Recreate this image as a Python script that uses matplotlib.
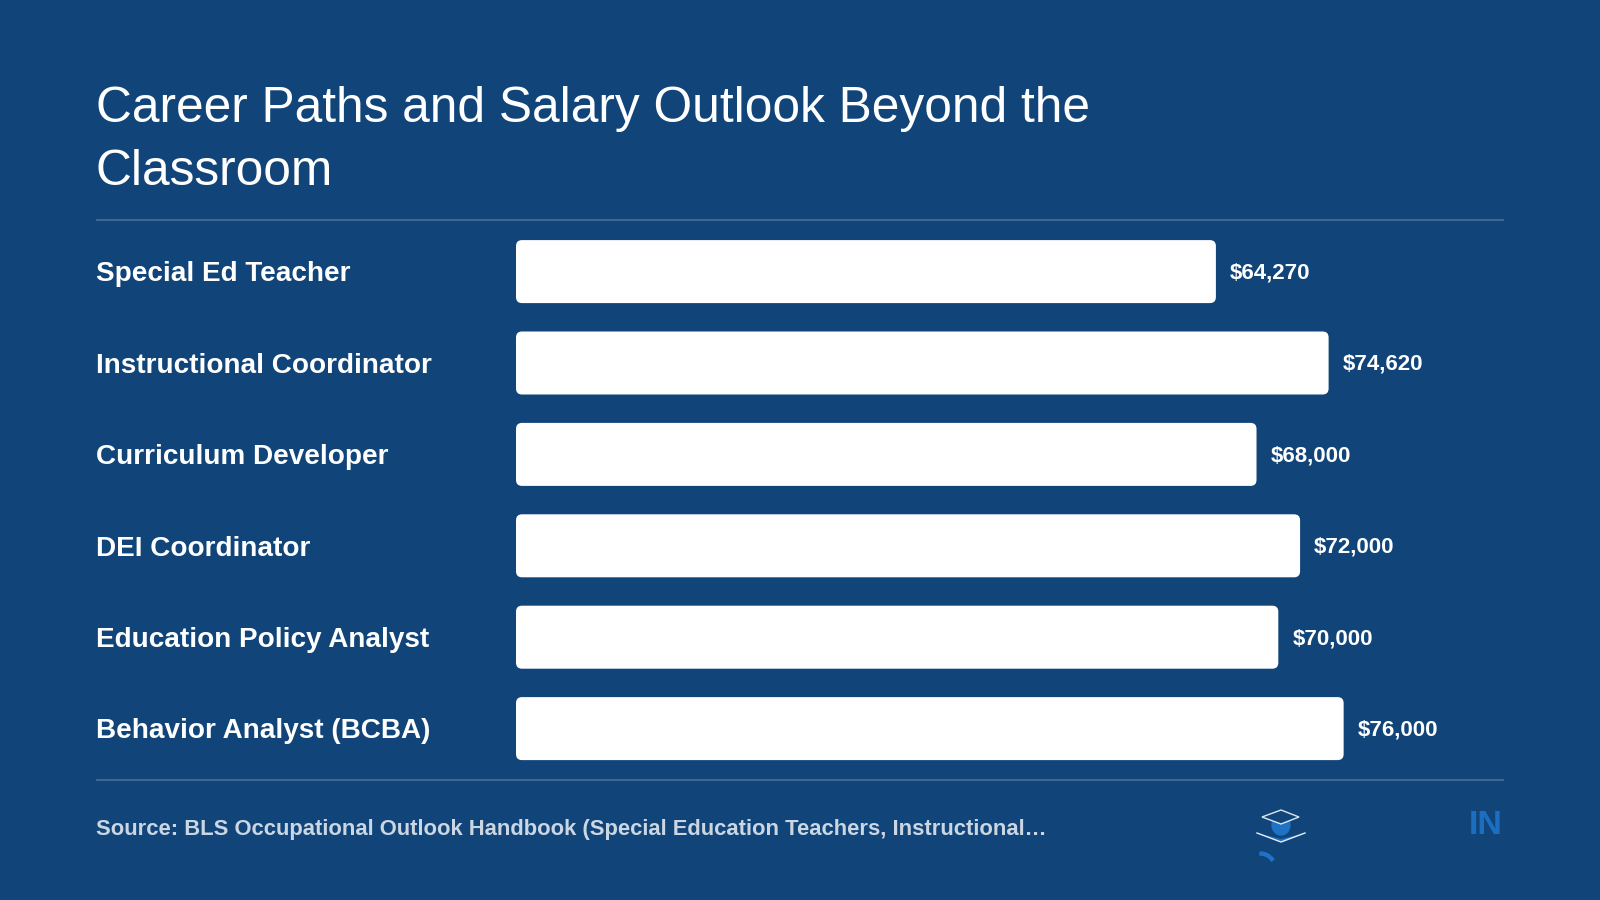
import matplotlib
matplotlib.use("Agg")
import matplotlib.pyplot as plt
from matplotlib.patches import FancyBboxPatch, Polygon, Ellipse, Wedge
from matplotlib.transforms import blended_transform_factory

plt.rcParams["font.family"] = ["Liberation Sans", "DejaVu Sans"]

careers = ["Special Ed Teacher", "Instructional Coordinator", "Curriculum Developer",
           "DEI Coordinator", "Education Policy Analyst", "Behavior Analyst (BCBA)"]
salaries = [64270, 74620, 68000, 72000, 70000, 76000]
title = "Career Paths and Salary Outlook Beyond the\nClassroom"
source = "Source: BLS Occupational Outlook Handbook (Special Education Teachers, Instructional\u2026"

BG = "#11457A"
W, H = 1600, 900

fig = plt.figure(figsize=(W / 100, H / 100), dpi=100, facecolor=BG)

# overlay in pixel coords for rules and the logo
deco = fig.add_axes([0, 0, 1, 1])
deco.set_xlim(0, W)
deco.set_ylim(H, 0)
deco.set_axis_off()

deco.plot([96, 1504], [220, 220], color="#41678F", lw=1.5, solid_capstyle="butt")
deco.plot([96, 1504], [780, 780], color="#41678F", lw=1.5, solid_capstyle="butt")

deco.text(96, 109, title.split("\n")[0], color="white", fontsize=35.75, va="center", ha="left")
deco.text(96, 172, title.split("\n")[1], color="white", fontsize=35.75, va="center", ha="left")
deco.text(96, 829, source, color="#CBD6E3", fontsize=15.85, fontweight="bold", va="center", ha="left")
deco.text(1503, 825, "IN", color="#1C6FC0", fontsize=24.5, fontweight="bold", va="center", ha="right")

# logo
deco.add_patch(Ellipse((1281, 825), 18, 20, color="#1F72C4", zorder=2))
deco.add_patch(Polygon([(1262, 817), (1281, 810), (1299, 817), (1281, 824)], closed=True,
                       fc=BG, ec="#DCE6F0", lw=1, zorder=3))
deco.add_patch(Polygon([(1257, 833), (1281, 839), (1305, 833), (1281, 842)], closed=True,
                       fc="#1F72C4", ec="none", zorder=2))
deco.plot([1257, 1281, 1305], [833, 842, 833], color="#E6EEF6", lw=1, zorder=3)
deco.add_patch(Wedge((1260, 869), 17, 270, 325, width=3, color="#1F72C4"))

# bar axes: x 516-1504 px, one category every 91.4 px
scale = 0.01089  # px per dollar
ax = fig.add_axes([516 / W, 0, (1504 - 516) / W, 1])
ax.set_xlim(0, (1504 - 516) / scale)
ax.set_ylim((900 - 271.6) / 91.4, -271.6 / 91.4)
ax.set_axis_off()
ax.patch.set_alpha(0)

bar_h = 63 / 91.4
radius = 6  # px
trans = blended_transform_factory(fig.transFigure, ax.transData)

for i, (name, val) in enumerate(zip(careers, salaries)):
    rx = radius / scale
    ry = radius / 91.4
    ax.add_patch(FancyBboxPatch((rx, i - bar_h / 2 + ry), val - 2 * rx, bar_h - 2 * ry,
                                boxstyle=f"round,pad={rx},rounding_size={rx}",
                                mutation_aspect=ry / rx, fc="white", ec="none"))
    ax.text(val + 14 / scale, i + 0.015, f"${val:,}", color="white", fontsize=16, fontweight="bold",
            va="center", ha="left")
    ax.text(96 / W, i + 0.03, name, transform=trans, color="white", fontsize=20.1, fontweight="bold",
            va="center", ha="left")

fig.savefig("out.png", dpi=100, facecolor=BG)
